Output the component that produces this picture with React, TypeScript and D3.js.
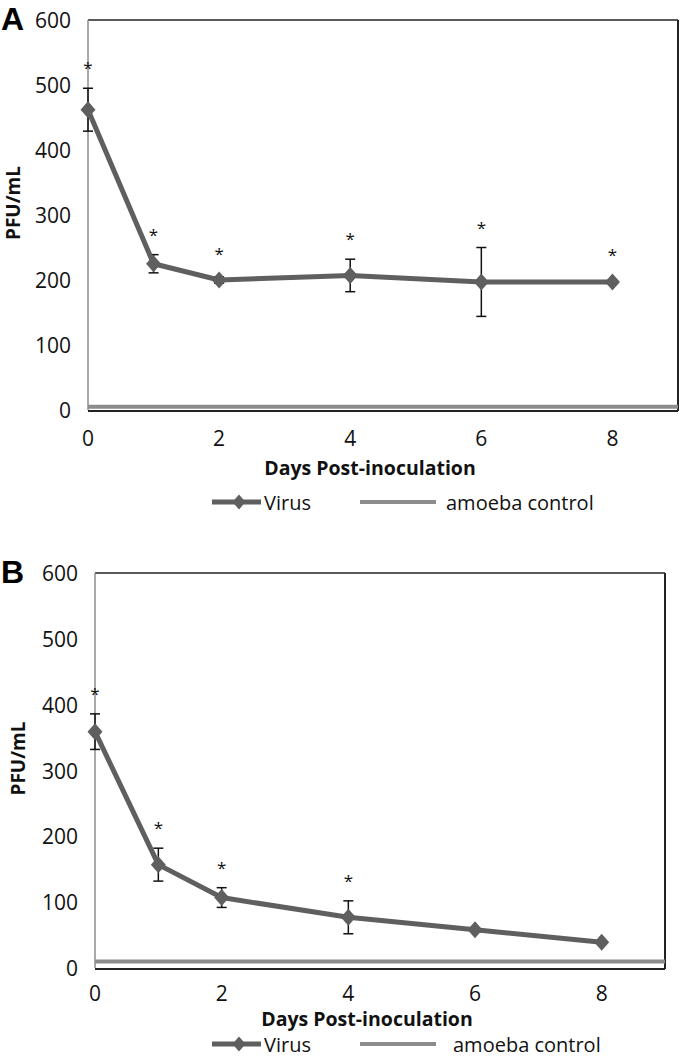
import React from "react";
import * as d3 from "d3";

const days = [0, 1, 2, 4, 6, 8];
const xTicks = [0, 2, 4, 6, 8];
const yTicks = [0, 100, 200, 300, 400, 500, 600];

const virusA = [462, 225, 200, 207, 197, 197];
const errA = [33, 14, 5, 25, 53, 0];
const starsA = [true, true, true, true, true, true];
const controlA = 5;

const virusB = [359, 157, 107, 77, 58, 39];
const errB = [27, 25, 15, 25, 0, 0];
const starsB = [true, true, true, true, false, false];
const controlB = 10;

const FONT = "'Open Sans', 'DejaVu Sans', sans-serif";
const LABEL_FONT = "'Liberation Sans', Arial, sans-serif";
const VIRUS_COLOR = "#5f5f5f";
const CONTROL_COLOR = "#8c8c8c";

function diamondPath(w: number, h: number) {
  const p = d3.path();
  p.moveTo(0, -h / 2);
  p.lineTo(w / 2, 0);
  p.lineTo(0, h / 2);
  p.lineTo(-w / 2, 0);
  p.closePath();
  return p.toString();
}

type PanelProps = {
  label: string;
  labelY: number;
  left: number;
  right: number;
  top: number;
  bottom: number;
  values: number[];
  errs: number[];
  stars: boolean[];
  control: number;
  xTickY: number;
  xTitleY: number;
  legendY: number;
  yTitleX: number;
  amoebaTextX: number;
};

function Panel(p: PanelProps) {
  const x = d3.scaleLinear().domain([0, 9]).range([p.left, p.right]);
  const y = d3.scaleLinear().domain([0, 600]).range([p.bottom, p.top]);
  const line = d3
    .line<number>()
    .x((_, i) => x(days[i]))
    .y((d) => y(d));
  const diamond = diamondPath(15, 17);
  const smallDiamond = diamondPath(13, 15);
  const midY = (p.top + p.bottom) / 2;
  return (
    <g>
      <text x={1} y={p.labelY} fontFamily={LABEL_FONT} fontWeight="bold" fontSize={32}>
        {p.label}
      </text>
      {/* plot frame */}
      <line x1={p.left} x2={p.right} y1={p.top} y2={p.top} stroke="#222" strokeWidth={1.5} />
      <line x1={p.right} x2={p.right} y1={p.top} y2={p.bottom + 1} stroke="#222" strokeWidth={2} />
      <line x1={p.left} x2={p.right} y1={p.bottom + 1} y2={p.bottom + 1} stroke="#222" strokeWidth={2} />
      <line x1={p.left} x2={p.left} y1={p.top} y2={p.bottom} stroke="#8c8c8c" strokeWidth={1.5} />
      {/* y ticks */}
      {yTicks.map((t) => (
        <text
          key={t}
          x={p.left - 17}
          y={y(t)}
          textAnchor="end"
          dominantBaseline="central"
          fontFamily={FONT}
          fontSize={21}
          fill="#111"
        >
          {t}
        </text>
      ))}
      {xTicks.map((t) => (
        <text
          key={t}
          x={x(t)}
          y={p.xTickY}
          textAnchor="middle"
          dominantBaseline="central"
          fontFamily={FONT}
          fontSize={21}
          fill="#111"
        >
          {t}
        </text>
      ))}
      <text
        transform={`translate(${p.yTitleX},${midY - 12}) rotate(-90)`}
        textAnchor="middle"
        dominantBaseline="central"
        fontFamily={FONT}
        fontWeight="bold"
        fontSize={19}
        fill="#111"
      >
        PFU/mL
      </text>
      <text
        x={(p.left + p.right) / 2 - 13}
        y={p.xTitleY}
        textAnchor="middle"
        dominantBaseline="central"
        fontFamily={FONT}
        fontWeight="bold"
        fontSize={19.5}
        fill="#111"
      >
        Days Post-inoculation
      </text>
      {/* control */}
      <line
        x1={p.left}
        x2={p.right}
        y1={y(p.control)}
        y2={y(p.control)}
        stroke={CONTROL_COLOR}
        strokeWidth={4}
      />
      {/* error bars */}
      {p.values.map((v, i) =>
        p.errs[i] > 0 ? (
          <g key={"e" + i} stroke="#111" strokeWidth={1.5}>
            <line x1={x(days[i])} x2={x(days[i])} y1={y(v + p.errs[i])} y2={y(v - p.errs[i])} />
            <line x1={x(days[i]) - 5} x2={x(days[i]) + 5} y1={y(v + p.errs[i])} y2={y(v + p.errs[i])} />
            <line x1={x(days[i]) - 5} x2={x(days[i]) + 5} y1={y(v - p.errs[i])} y2={y(v - p.errs[i])} />
          </g>
        ) : null
      )}
      <path d={line(p.values) || ""} fill="none" stroke={VIRUS_COLOR} strokeWidth={5} strokeLinejoin="round" />
      {p.values.map((v, i) => (
        <path key={"m" + i} d={diamond} transform={`translate(${x(days[i])},${y(v)})`} fill={VIRUS_COLOR} />
      ))}
      {p.values.map((v, i) =>
        p.stars[i] ? (
          <text
            key={"s" + i}
            x={x(days[i])}
            y={y(v + Math.max(p.errs[i], 10)) - 14}
            textAnchor="middle"
            fontFamily={FONT}
            fontSize={17}
            fill="#111"
          >
            *
          </text>
        ) : null
      )}
      {/* legend */}
      <line x1={212} x2={261} y1={p.legendY} y2={p.legendY} stroke={VIRUS_COLOR} strokeWidth={5} />
      <path d={smallDiamond} transform={`translate(239,${p.legendY})`} fill={VIRUS_COLOR} />
      <text x={264} y={p.legendY} dominantBaseline="central" fontFamily={FONT} fontSize={20} fill="#111">
        Virus
      </text>
      <line x1={360} x2={436} y1={p.legendY} y2={p.legendY} stroke={CONTROL_COLOR} strokeWidth={4} />
      <text x={p.amoebaTextX} y={p.legendY} dominantBaseline="central" fontFamily={FONT} fontSize={20} fill="#111">
        amoeba control
      </text>
    </g>
  );
}

export default function App() {
  return (
    <div style={{ position: "absolute", left: 0, top: 0 }}>
      <svg width={680} height={1058} style={{ display: "block", background: "#fff" }}>
        <Panel
          label="A"
          labelY={30}
          left={88}
          right={678}
          top={20}
          bottom={410}
          values={virusA}
          errs={errA}
          stars={starsA}
          control={controlA}
          xTickY={438}
          xTitleY={467}
          legendY={502}
          yTitleX={13}
          amoebaTextX={446}
        />
        <Panel
          label="B"
          labelY={583}
          left={95}
          right={665}
          top={573}
          bottom={968}
          values={virusB}
          errs={errB}
          stars={starsB}
          control={controlB}
          xTickY={993}
          xTitleY={1018}
          legendY={1044}
          yTitleX={18}
          amoebaTextX={453}
        />
      </svg>
    </div>
  );
}
